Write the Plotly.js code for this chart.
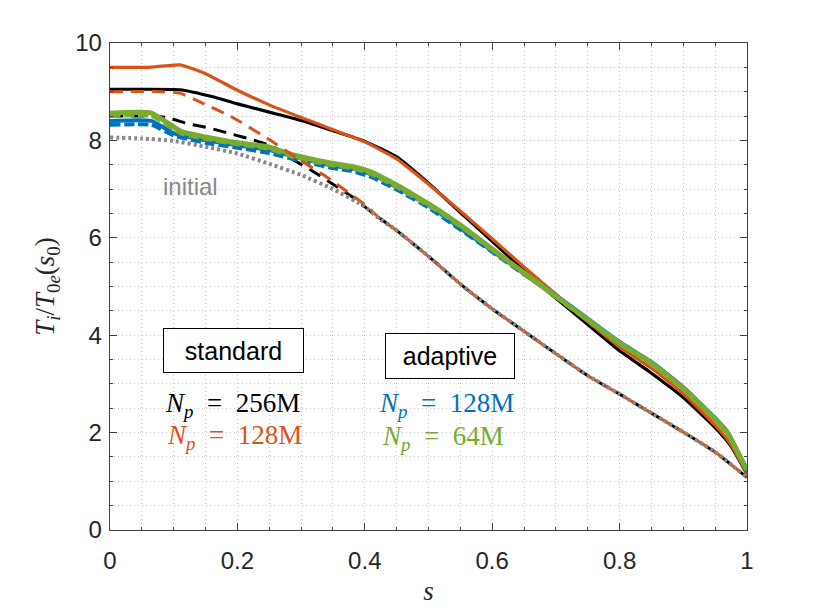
<!DOCTYPE html>
<html>
<head>
<meta charset="utf-8">
<script src="https://cdn.plot.ly/plotly-3.0.1.min.js"></script>
<style>
  body { margin: 0; background: #fff; }
  #chart { width: 830px; height: 610px; }
</style>
</head>
<body>
<div id="chart"></div>
<script>
// initial profile (gray dotted)
const sInit = [0, 0.05, 0.1, 0.15, 0.2, 0.25, 0.3, 0.35, 0.4, 0.42, 0.45, 0.5, 0.55, 0.6, 0.65, 0.7, 0.75, 0.8, 0.85, 0.9, 0.95, 1.0];
const tInit = [8.06, 8.04, 7.99, 7.87, 7.73, 7.52, 7.29, 7.0, 6.64, 6.42, 6.15, 5.62, 5.05, 4.54, 4.08, 3.62, 3.17, 2.79, 2.4, 2.01, 1.6, 1.08];

// standard, Np = 256M
const sStd256 = [0, 0.05, 0.11, 0.16, 0.2, 0.25, 0.3, 0.35, 0.4, 0.45, 0.5, 0.55, 0.6, 0.65, 0.7, 0.75, 0.8, 0.85, 0.9, 0.95, 0.975, 1.0];
const tStd256 = [9.05, 9.05, 9.04, 8.9, 8.75, 8.58, 8.41, 8.2, 7.98, 7.66, 7.12, 6.52, 5.93, 5.33, 4.76, 4.22, 3.68, 3.22, 2.72, 2.1, 1.72, 1.15];
const sStd256Dash = [0, 0.065, 0.09, 0.12, 0.157, 0.194, 0.225, 0.256, 0.288, 0.319, 0.35, 0.385, 0.413, 0.43];
const tStd256Dash = [8.5, 8.5, 8.47, 8.35, 8.25, 8.12, 8.01, 7.87, 7.6, 7.36, 7.1, 6.8, 6.5, 6.34];

// standard, Np = 128M
const sStd128 = [0, 0.06, 0.11, 0.15, 0.2, 0.25, 0.3, 0.35, 0.4, 0.45, 0.5, 0.55, 0.6, 0.65, 0.7, 0.75, 0.8, 0.85, 0.9, 0.95, 0.975, 1.0];
const tStd128 = [9.5, 9.5, 9.55, 9.37, 9.03, 8.73, 8.47, 8.22, 7.97, 7.62, 7.1, 6.55, 5.98, 5.4, 4.84, 4.28, 3.76, 3.32, 2.8, 2.15, 1.75, 1.16];
const sStd128Dash = [0, 0.08, 0.11, 0.141, 0.19, 0.246, 0.298, 0.34, 0.372, 0.403, 0.425];
const tStd128Dash = [9.0, 9.0, 8.97, 8.79, 8.49, 8.05, 7.6, 7.25, 6.95, 6.65, 6.38];

// adaptive, Np = 128M
const sAda128 = [0, 0.065, 0.1, 0.15, 0.2, 0.25, 0.3, 0.35, 0.38, 0.41, 0.45, 0.5, 0.55, 0.6, 0.65, 0.7, 0.75, 0.8, 0.85, 0.9, 0.95, 0.97, 1.0];
const tAda128 = [8.4, 8.4, 8.15, 8.0, 7.9, 7.8, 7.63, 7.48, 7.42, 7.3, 7.04, 6.66, 6.2, 5.73, 5.27, 4.82, 4.34, 3.86, 3.45, 2.93, 2.3, 2.0, 1.22];
const tAda128Dash = [8.32, 8.32, 8.1, 7.95, 7.85, 7.74, 7.58, 7.43, 7.37, 7.25, 6.99, 6.62, 6.17, 5.71, 5.25, 4.8, 4.32, 3.84, 3.43, 2.91, 2.28, 1.98, 1.2];

// adaptive, Np = 64M
const sAda64 = [0, 0.065, 0.112, 0.15, 0.2, 0.248, 0.288, 0.34, 0.382, 0.408, 0.445, 0.487, 0.518, 0.55, 0.6, 0.65, 0.7, 0.75, 0.8, 0.85, 0.9, 0.95, 0.97, 1.0];
const tAda64 = [8.56, 8.56, 8.18, 8.07, 7.95, 7.87, 7.7, 7.55, 7.46, 7.36, 7.12, 6.8, 6.55, 6.26, 5.77, 5.28, 4.8, 4.32, 3.84, 3.43, 2.91, 2.28, 1.98, 1.23];
const tAda64Dash = [8.5, 8.5, 8.14, 8.03, 7.92, 7.83, 7.66, 7.51, 7.42, 7.32, 7.08, 6.76, 6.52, 6.23, 5.75, 5.26, 4.78, 4.3, 3.82, 3.41, 2.89, 2.26, 1.96, 1.21];

const sansFamily = 'Liberation Sans, Arial, sans-serif';
const mathFont = 'Liberation Serif, Times New Roman, serif';
const tickFont = { family: sansFamily, size: 24, color: '#262626' };
const gridColor = '#c8c8c8';
const axisColor = '#404040';

function line(x, y, color, width, dash) {
    return {
        x: x,
        y: y,
        type: 'scatter',
        mode: 'lines',
        line: { color: color, width: width, dash: dash || 'solid', shape: 'spline', smoothing: 0.45 },
        hoverinfo: 'skip',
        showlegend: false
    };
}

// tail of the dashed curves follows the initial profile
function withTail(s, t, sFrom) {
    const xs = s.slice(), ys = t.slice();
    for (let i = 0; i < sInit.length; i++) {
        if (sInit[i] > sFrom) { xs.push(sInit[i]); ys.push(tInit[i]); }
    }
    return [xs, ys];
}

const [bx, by] = withTail(sStd256Dash, tStd256Dash, 0.43);
const [ox, oy] = withTail(sStd128Dash, tStd128Dash, 0.425);

const traces = [
    line(sStd256, tStd256, '#000000', 3.2),
    line(sStd128, tStd128, '#D95319', 3.2),
    line(bx, by, '#000000', 3, '13px,8px'),
    line(sAda128, tAda128Dash, '#0072BD', 4, '10px,4px'),
    line(sAda128, tAda128, '#0072BD', 4),
    line(sAda64, tAda64Dash, '#77AC30', 4, '10px,4px'),
    line(sAda64, tAda64, '#77AC30', 5),
    line(ox, oy, '#D95319', 3, '13px,8px'),
    line(sInit, tInit, '#888888', 4, '3px,3px')
];

function label(x, y, text, color) {
    return {
        x: x, y: y, xref: 'x', yref: 'y', text: text, showarrow: false,
        font: { family: mathFont, size: 27, color: color }
    };
}

function box(x, y, text, w, h) {
    return {
        x: x, y: y, xref: 'x', yref: 'y', text: text, showarrow: false,
        font: { family: sansFamily, size: 25, color: '#000' },
        bordercolor: '#000', borderwidth: 1, borderpad: 3,
        bgcolor: '#fff', width: w, height: h
    };
}

const np = '<i>N</i><sub><i>p</i></sub>\u2002=\u2002';

const layout = {
    width: 830,
    height: 610,
    paper_bgcolor: '#fff',
    plot_bgcolor: '#fff',
    margin: { l: 110, r: 83, t: 43, b: 80 },
    xaxis: {
        range: [0, 1], dtick: 0.2, tick0: 0,
        ticks: 'inside', ticklen: 7, tickcolor: axisColor, ticklabelstandoff: 9,
        mirror: 'allticks', showline: true, linecolor: axisColor, linewidth: 1.3,
        showgrid: true, gridcolor: gridColor, griddash: '1px,3px', zeroline: false,
        tickfont: tickFont,
        minor: { dtick: 0.05, showgrid: true, gridcolor: gridColor, griddash: '1px,3px', ticks: 'inside', ticklen: 3, tickcolor: axisColor },
        title: { text: '<i>s</i>', font: { family: mathFont, size: 27, color: '#262626' }, standoff: 8 }
    },
    yaxis: {
        range: [0, 10], dtick: 2, tick0: 0,
        ticks: 'inside', ticklen: 7, tickcolor: axisColor, ticklabelstandoff: 2,
        mirror: 'allticks', showline: true, linecolor: axisColor, linewidth: 1.3,
        showgrid: true, gridcolor: gridColor, griddash: '1px,3px', zeroline: false,
        tickfont: tickFont,
        minor: { dtick: 0.5, showgrid: true, gridcolor: gridColor, griddash: '1px,3px', ticks: 'inside', ticklen: 3, tickcolor: axisColor },
        title: { text: '<i>T</i><sub><i>i</i></sub>/<i>T</i><sub>0<i>e</i></sub>(<i>s</i><sub>0</sub>)', font: { family: mathFont, size: 27, color: '#262626' }, standoff: 12 }
    },
    annotations: [
        { x: 0.126, y: 7.06, xref: 'x', yref: 'y', text: 'initial', showarrow: false,
          font: { family: sansFamily, size: 24, color: '#888888' } },
        box(0.194, 3.68, 'standard', 133, 37),
        box(0.534, 3.58, 'adaptive', 122, 38),
        label(0.192, 2.57, np + '256M', '#000000'),
        label(0.195, 1.91, np + '128M', '#D95319'),
        label(0.529, 2.57, np + '128M', '#0072BD'),
        label(0.523, 1.89, np + '64M', '#77AC30')
    ]
};

Plotly.newPlot('chart', traces, layout, { displayModeBar: false, staticPlot: true });
</script>
</body>
</html>
